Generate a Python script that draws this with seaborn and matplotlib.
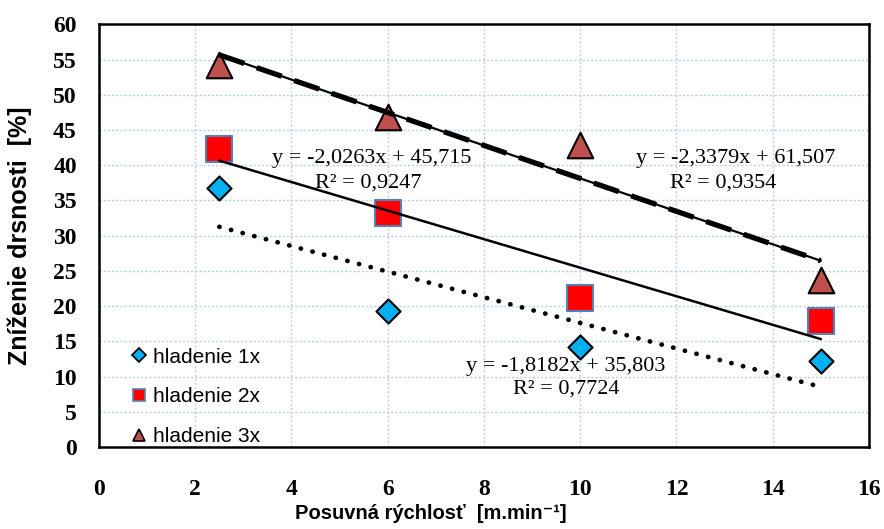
import matplotlib
matplotlib.use("Agg")
import matplotlib.pyplot as plt
from matplotlib.lines import Line2D
import seaborn as sns
import numpy as np
import pandas as pd

# ---- data ----
speed = [2.5, 6, 10, 15]
cool_1x = [36.7, 19.3, 14.2, 12.2]
cool_2x = [42.3, 33.2, 21.1, 17.9]
cool_3x = [54.2, 46.8, 42.8, 23.7]
series_names = ["hladenie 1x", "hladenie 2x", "hladenie 3x"]
# trendline coefficients (slope, intercept, R²) as printed on the chart
trend_1x = (-1.8182, 35.803, 0.7724)
trend_2x = (-2.0263, 45.715, 0.9247)
trend_3x = (-2.3379, 61.507, 0.9354)
x_ticks = list(range(0, 17, 2))
y_ticks = list(range(0, 61, 5))

sns.set_theme(style="white")
plt.rcParams["font.family"] = ["Liberation Sans", "DejaVu Sans"]
plt.rcParams["text.color"] = "black"
plt.rcParams["axes.labelcolor"] = "black"
plt.rcParams["xtick.color"] = "black"
plt.rcParams["ytick.color"] = "black"

fig = plt.figure(figsize=(8.84, 5.29), dpi=100)
ax = fig.add_axes([0.112, 0.155, 0.871, 0.799])

df = pd.DataFrame({"x": speed * 3,
                   "y": cool_1x + cool_2x + cool_3x,
                   "s": [series_names[0]] * 4 + [series_names[1]] * 4 + [series_names[2]] * 4})

styles = {
    series_names[0]: dict(marker="D", s=150, color="#00B0F0", edgecolor="black", lw=1.5),
    series_names[1]: dict(marker="s", s=330, color="#FF0000", edgecolor="#4F81BD", lw=1.5),
    series_names[2]: dict(marker="^", s=340, color="#C0504D", edgecolor="black", lw=1.5),
}
for name in series_names:
    st = styles[name]
    sns.scatterplot(data=df[df.s == name], x="x", y="y", ax=ax, marker=st["marker"],
                    s=st["s"], color=st["color"], edgecolor=st["edgecolor"],
                    linewidth=st["lw"], zorder=3, legend=False)

# trendlines
xt = np.array([speed[0], speed[-1]])
def tl(c):
    return c[0] * xt + c[1]

ax.plot(xt, tl(trend_1x), color="black", lw=3.4, linestyle=(0, (0.05, 2.5)),
        dash_capstyle="round", zorder=4)
ax.plot(xt, tl(trend_2x), color="black", lw=1.8, zorder=4)
ax.plot(xt, tl(trend_3x), color="black", lw=1.6, zorder=4)
ax.plot(xt, tl(trend_3x), color="black", lw=3.8, linestyle=(0, (5, 2.5)), zorder=4)

# equation labels
tfont = dict(family=["Liberation Serif", "DejaVu Serif"], fontsize=16, color="black", ha="center",
             va="center", zorder=5)
def fmt(v, d):
    return f"{v:.{d}f}".replace(".", ",")
def eq(c):
    return f"y = {fmt(c[0], 4)}x + {fmt(c[1], 3)}"
ax.text(5.67, 41.0, eq(trend_2x), **tfont)
ax.text(5.6, 37.5, f"R² = {fmt(trend_2x[2], 4)}", **tfont)
ax.text(13.22, 41.0, eq(trend_3x), **tfont)
ax.text(12.97, 37.5, f"R² = {fmt(trend_3x[2], 4)}", **tfont)
ax.text(9.7, 11.4, eq(trend_1x), **tfont)
ax.text(9.7, 8.2, f"R² = {fmt(trend_1x[2], 4)}", **tfont)

ax.set_xlim(0, 16)
ax.set_ylim(0, 60)
ax.set_xticks(x_ticks)
ax.set_yticks(y_ticks)
ax.grid(True, color="#B9CDE5", linestyle=(0, (1.5, 1.5)), lw=1.0)
ax.set_axisbelow(True)
for sp in ax.spines.values():
    sp.set_color("black")
    sp.set_linewidth(1.8)
    sp.set_visible(True)

ax.tick_params(axis="both", which="major", length=5, width=1, color="#404040", direction="out",
               labelcolor="black")
ax.tick_params(axis="x", pad=18)
ax.tick_params(axis="y", pad=11)
for lab in ax.get_xticklabels() + ax.get_yticklabels():
    lab.set_fontfamily(["Liberation Serif", "DejaVu Serif"])
    lab.set_fontweight("bold")
    lab.set_fontsize(17)

ax.set_xlabel("Posuvná rýchlosť  [m.min⁻¹]", fontsize=14.5, fontweight="bold", color="black")
ax.xaxis.set_label_coords(0.431, -0.135)
ax.set_ylabel("Zníženie drsnosti  [%]", fontsize=18, fontweight="bold", color="black")
ax.yaxis.set_label_coords(-0.087, 0.5)

handles = [
    Line2D([], [], marker="D", linestyle="none", markersize=7, markerfacecolor="#00B0F0",
           markeredgecolor="black", markeredgewidth=1.2),
    Line2D([], [], marker="s", linestyle="none", markersize=9, markerfacecolor="#FF0000",
           markeredgecolor="#4F81BD", markeredgewidth=1.2),
    Line2D([], [], marker="^", linestyle="none", markersize=9, markerfacecolor="#C0504D",
           markeredgecolor="black", markeredgewidth=1.2),
]
ax.legend(handles, series_names, loc="upper left", bbox_to_anchor=(0.0255, 0.255),
          frameon=False, fontsize=15, handletextpad=0.05, labelspacing=1.0,
          handlelength=1.2, borderaxespad=0)

fig.savefig("out.png", dpi=100)
